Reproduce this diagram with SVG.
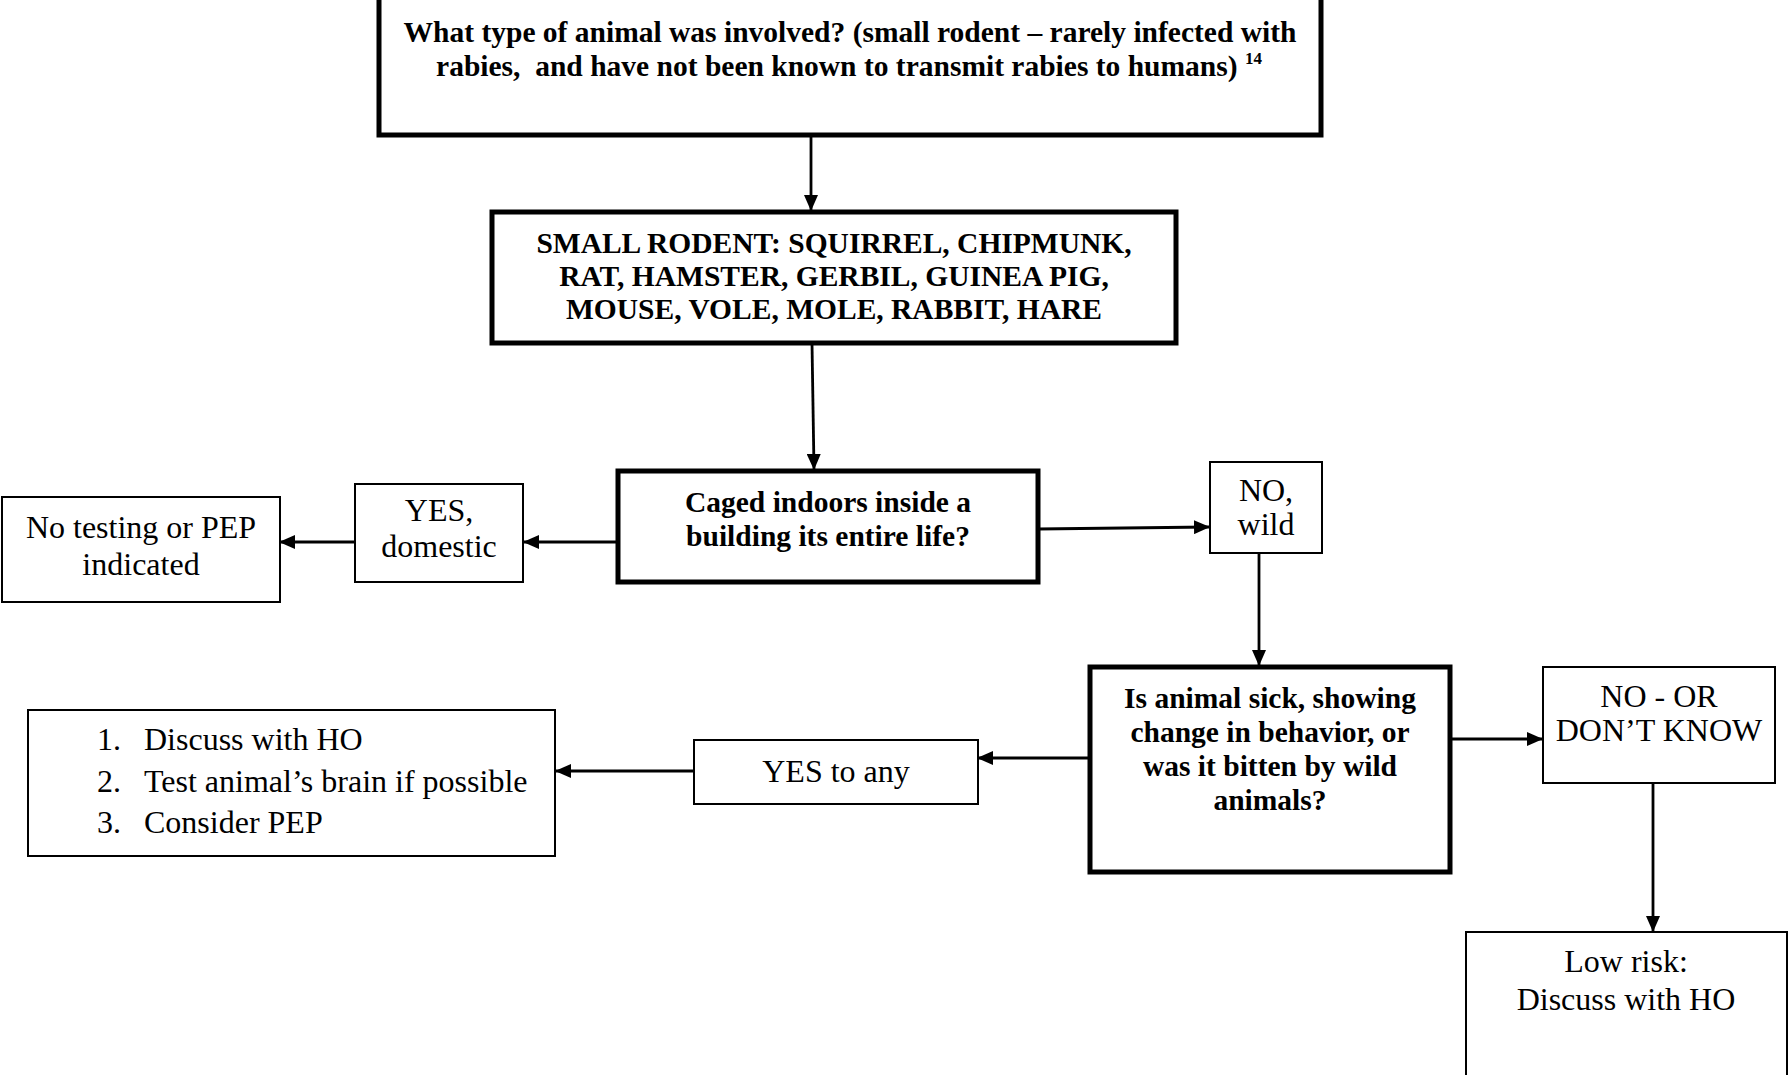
<svg xmlns="http://www.w3.org/2000/svg" width="1788" height="1075" viewBox="0 0 1788 1075">
<defs>
<marker id="ah" markerWidth="16" markerHeight="14" refX="15" refY="7" orient="auto" markerUnits="userSpaceOnUse">
<path d="M0,0 L16,7 L0,14 Z" fill="#000"/>
</marker>
<style>
.thick{fill:#fff;stroke:#000;stroke-width:5}
.thin{fill:#fff;stroke:#000;stroke-width:2}
.b{font-family:"Liberation Serif","Times New Roman",serif;font-weight:bold;font-size:29.5px;fill:#000;text-anchor:middle}
.r{font-family:"Liberation Serif","Times New Roman",serif;font-size:32px;fill:#000;text-anchor:middle}
.rl{font-family:"Liberation Serif","Times New Roman",serif;font-size:32px;fill:#000}
.c{fill:none;stroke:#000;stroke-width:2.8}
</style>
</defs>
<rect width="1788" height="1075" fill="#fff"/>
<g id="connectors">
<line class="c" x1="811" y1="136" x2="811" y2="210" marker-end="url(#ah)"/>
<line class="c" x1="812" y1="343" x2="814" y2="469" marker-end="url(#ah)"/>
<line class="c" x1="617" y1="542" x2="524" y2="542" marker-end="url(#ah)"/>
<line class="c" x1="355" y1="542" x2="280" y2="542" marker-end="url(#ah)"/>
<line class="c" x1="1038" y1="529" x2="1209" y2="527" marker-end="url(#ah)"/>
<line class="c" x1="1259" y1="553" x2="1259" y2="665" marker-end="url(#ah)"/>
<line class="c" x1="1089" y1="758" x2="978" y2="758" marker-end="url(#ah)"/>
<line class="c" x1="693" y1="771" x2="556" y2="771" marker-end="url(#ah)"/>
<line class="c" x1="1450" y1="739" x2="1542" y2="739" marker-end="url(#ah)"/>
<line class="c" x1="1653" y1="783" x2="1653" y2="931" marker-end="url(#ah)"/>
</g>
<g id="n-animal-type">
<rect class="thick" x="379" y="-3" width="942" height="138"/>
<text class="b" x="850" y="42">What type of animal was involved? (small rodent – rarely infected with</text>
<text class="b" x="849" y="76" xml:space="preserve">rabies,  and have not been known to transmit rabies to humans) <tspan font-size="17" dy="-12">14</tspan></text>
</g>
<g id="n-small-rodent">
<rect class="thick" x="492" y="212" width="684" height="131"/>
<text class="b" x="834" y="253">SMALL RODENT: SQUIRREL, CHIPMUNK,</text>
<text class="b" x="834" y="286">RAT, HAMSTER, GERBIL, GUINEA PIG,</text>
<text class="b" x="834" y="319">MOUSE, VOLE, MOLE, RABBIT, HARE</text>
</g>
<g id="n-caged">
<rect class="thick" x="618" y="471" width="420" height="111"/>
<text class="b" x="828" y="512">Caged indoors inside a</text>
<text class="b" x="828" y="546">building its entire life?</text>
</g>
<g id="n-yes-domestic">
<rect class="thin" x="355" y="484" width="168" height="98"/>
<text class="r" x="439" y="521">YES,</text>
<text class="r" x="439" y="557">domestic</text>
</g>
<g id="n-no-testing">
<rect class="thin" x="2" y="497" width="278" height="105"/>
<text class="r" x="141" y="538">No testing or PEP</text>
<text class="r" x="141" y="575">indicated</text>
</g>
<g id="n-no-wild">
<rect class="thin" x="1210" y="462" width="112" height="91"/>
<text class="r" x="1266" y="501">NO,</text>
<text class="r" x="1266" y="535">wild</text>
</g>
<g id="n-sick">
<rect class="thick" x="1090" y="667" width="360" height="205"/>
<text class="b" x="1270" y="708">Is animal sick, showing</text>
<text class="b" x="1270" y="742">change in behavior, or</text>
<text class="b" x="1270" y="776">was it bitten by wild</text>
<text class="b" x="1270" y="810">animals?</text>
</g>
<g id="n-yes-any">
<rect class="thin" x="694" y="740" width="284" height="64"/>
<text class="r" x="836" y="782">YES to any</text>
</g>
<g id="n-actions">
<rect class="thin" x="28" y="710" width="527" height="146"/>
<text class="rl" x="97" y="750">1.</text><text class="rl" x="144" y="750">Discuss with HO</text>
<text class="rl" x="97" y="792">2.</text><text class="rl" x="144" y="792">Test animal’s brain if possible</text>
<text class="rl" x="97" y="833">3.</text><text class="rl" x="144" y="833">Consider PEP</text>
</g>
<g id="n-no-dont-know">
<rect class="thin" x="1543" y="667" width="232" height="116"/>
<text class="r" x="1659" y="707">NO - OR</text>
<text class="r" x="1659" y="741">DON’T KNOW</text>
</g>
<g id="n-low-risk">
<rect class="thin" x="1466" y="932" width="321" height="150"/>
<text class="r" x="1626" y="972">Low risk:</text>
<text class="r" x="1626" y="1010">Discuss with HO</text>
</g>
</svg>
